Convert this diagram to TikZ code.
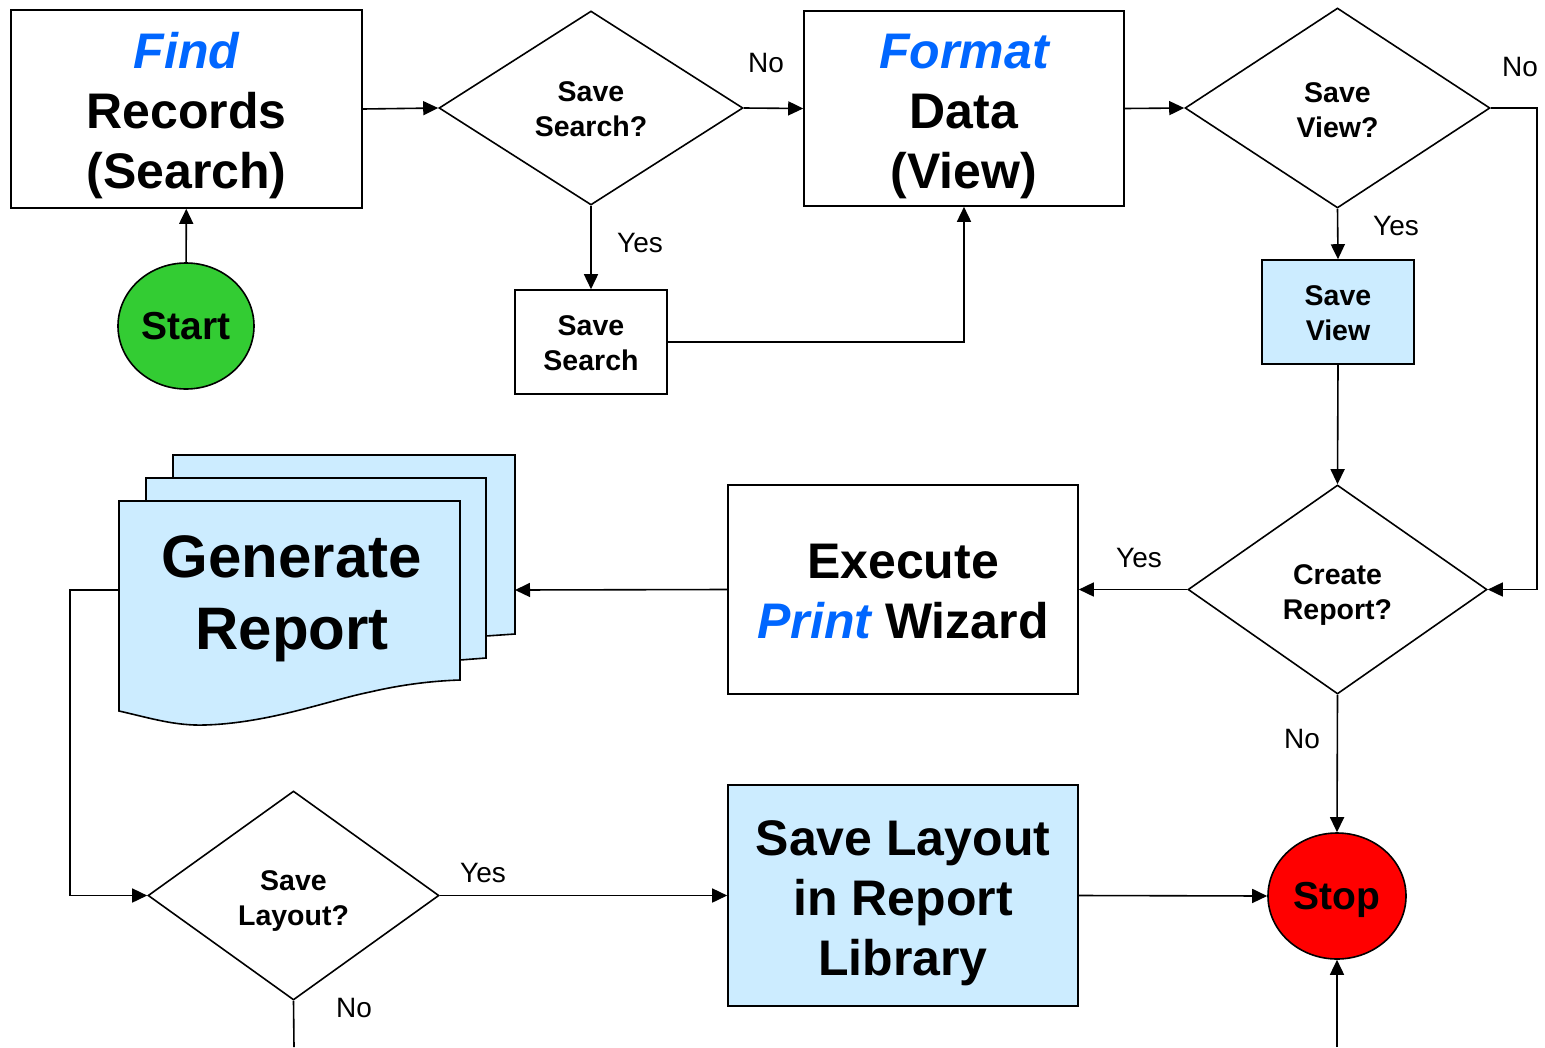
\documentclass[tikz,border=0pt]{standalone}
\usepackage{fontspec}
\setmainfont{Liberation Sans}
\usetikzlibrary{arrows.meta,shapes.geometric}
\definecolor{hiblue}{HTML}{0066FF}
\definecolor{paleblue}{HTML}{CCECFF}
\definecolor{startgreen}{HTML}{33CC33}
\definecolor{stopred}{HTML}{FF0000}
\newcommand{\bigtxt}{\fontsize{50}{60}\selectfont\bfseries}
\newcommand{\midtxt}{\fontsize{28.5}{35}\selectfont\bfseries}
\newcommand{\hi}[1]{\textcolor{hiblue}{\itshape #1}}
\newcommand{\lift}[1]{\rule{0pt}{#1pt}}
\begin{document}
\begin{tikzpicture}[x=1pt,y=-1pt,
  every path/.style={line width=1.6pt},
  box/.style={draw, rectangle, inner sep=0pt, align=center},
  decision/.style={draw, diamond, inner sep=0pt, align=center, font=\midtxt},
  terminal/.style={draw, ellipse, inner sep=0pt, text depth=0pt, font=\fontsize{39}{45}\selectfont\bfseries},
  flow/.style={-{Triangle[length=15pt,width=14pt]}},
  lbl/.style={font=\fontsize{28}{32}\selectfont, inner sep=0pt}
]
\useasboundingbox (0,0) rectangle (1545,1047);

% boxes
\node[box, minimum width=351, minimum height=198, font=\bigtxt] (find) at (186.5,109)
  {\lift{50}\hi{Find}\\Records\\(Search)};
\node[decision, minimum width=304, minimum height=194] (ss) at (591,108) {\lift{23}Save\\Search?};
\node[box, minimum width=152, minimum height=104, font=\midtxt] (savesearch) at (591,342) {\lift{23}Save\\Search};
\node[terminal, fill=startgreen, minimum width=136, minimum height=126] (start) at (186,326) {Start};
\node[box, minimum width=320, minimum height=195, font=\bigtxt] (format) at (964,108.5)
  {\lift{50}\hi{Format}\\Data\\(View)};
\node[decision, minimum width=305, minimum height=200] (sv) at (1337.5,108) {\lift{25}Save\\View?};
\node[box, fill=paleblue, minimum width=152, minimum height=104, font=\midtxt] (saveview) at (1338,312) {\lift{23}Save\\View};
\node[decision, minimum width=299, minimum height=209] (cr) at (1337.5,589.5) {\lift{31}Create\\Report?};
\node[box, minimum width=350, minimum height=209, font=\bigtxt] (exec) at (903,589.5)
  {\lift{38}Execute\\\hi{Print} Wizard};
\node[decision, minimum width=291, minimum height=209] (sl) at (293.5,895.5) {\lift{30}Save\\Layout?};
\node[box, fill=paleblue, minimum width=350, minimum height=221, font=\bigtxt] (lib) at (903,895.5)
  {\lift{50}Save Layout\\in Report\\Library};
\node[terminal, fill=stopred, minimum width=138, minimum height=126] (stop) at (1337,896) {Stop};

% multi-document "Generate Report"
\draw[fill=paleblue] (173,455) -- (515,455) -- (515,634) -- (486,636) -- (486,478) -- (173,478) -- cycle;
\draw[fill=paleblue] (146,478) -- (486,478) -- (486,658) -- (460,660) -- (460,501) -- (146,501) -- cycle;
\draw[fill=paleblue] (119,501) -- (460,501) -- (460,680)
  .. controls (430,681) and (400,685) .. (370,692)
  .. controls (330,700) and (270,723) .. (205,725)
  .. controls (175,726) and (150,718) .. (119,711) -- cycle;
\node[font=\fontsize{60}{72}\selectfont\bfseries, align=center, inner sep=0pt] (gen) at (292,598.5) {Generate\\Report};
\coordinate (genR) at (515,590);
\coordinate (genL) at (119,590);
\coordinate (bendL) at (70,590);
\coordinate (bendR) at (1537,108);
\coordinate (outL) at (294,1047);
\coordinate (outR) at (1337,1047);

% connectors
\draw[flow] (start) -- (find);
\draw[flow] (find.east) -- (ss.west);
\draw[flow] (ss.east) -- (format.west);
\draw[flow] (ss.south) -- (savesearch.north);
\draw[flow] (savesearch.east) -| (format.south);
\draw[flow] (format.east) -- (sv.west);
\draw[flow] (sv.south) -- (saveview.north);
\draw[flow] (sv.east) -- (bendR) |- (cr.east);
\draw[flow] (saveview.south) -- (cr.north);
\draw[flow] (cr.west) -- (exec.east);
\draw[flow] (exec.west) -- (genR);
\draw[flow] (genL) -- (bendL) |- (sl.west);
\draw[flow] (sl.east) -- (lib.west);
\draw[flow] (lib.east) -- (stop.west);
\draw[flow] (cr.south) -- (stop.north);
\draw (sl.south) -- (outL);
\draw[flow] (outR) -- (stop.south);

% labels
\node[lbl] at (766,63) {No};
\node[lbl] at (640,243) {Yes};
\node[lbl] at (1520,67) {No};
\node[lbl] at (1396,226) {Yes};
\node[lbl] at (1139,558) {Yes};
\node[lbl] at (1302,739) {No};
\node[lbl] at (483,873) {Yes};
\node[lbl] at (354,1008) {No};
\end{tikzpicture}
\end{document}
